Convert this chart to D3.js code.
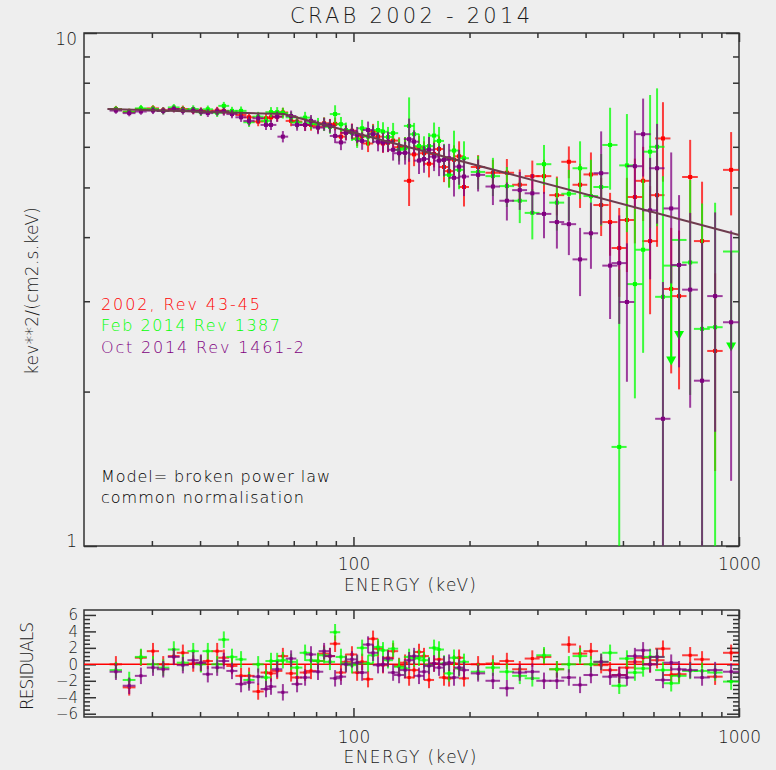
<!DOCTYPE html>
<html>
<head>
<meta charset="utf-8">
<script src="https://cdn.jsdelivr.net/npm/d3@7"></script>
<style>
  body { margin: 0; background: #eeeeee; }
  svg { display: block; font-family: 'DejaVu Sans', sans-serif; font-weight: 200; }
</style>
</head>
<body>
<div class="container"></div>
<script>
// energy bins (keV) and their half widths
const energy = [
  24.2, 26.2, 28.1, 30.2, 32.1, 34.2, 36.1, 38.4, 40.2, 41.9,
  44.3, 46.1, 48.4, 51.1, 53.6, 56.6, 59.3, 61.1, 63.4, 65.6,
  68.9, 71.4, 74.9, 77.6, 80.9, 83.9, 86.9, 89.6, 92.8, 95.6,
  99.1, 102.2, 105.3, 109.1, 112.4, 115.8, 119.3, 122.9, 126.7, 131.3,
  136.1, 139.4, 143.6, 147.9, 152.4, 157.0, 161.8, 166.7, 171.7, 177.0,
  182.3, 187.9, 193.5, 210.5, 230, 250, 270, 291, 312, 337,
  362, 387, 413, 439, 463, 489, 512, 537, 564, 588,
  613, 635, 667, 699, 747, 802, 867, 954
];
const halfWidth = [
  0.9, 1.0, 1.0, 1.1, 1.2, 1.2, 1.3, 1.3, 1.3, 1.3,
  1.5, 1.5, 1.6, 1.7, 1.8, 1.9, 1.9, 2.0, 2.0, 2.1,
  2.2, 2.3, 2.4, 2.5, 2.6, 2.7, 2.7, 2.8, 2.9, 3.0,
  3.1, 3.2, 3.3, 3.4, 3.5, 3.6, 3.7, 3.8, 3.9, 4.0,
  4.2, 4.3, 4.4, 4.5, 4.6, 4.8, 4.9, 5.0, 5.2, 5.4,
  5.5, 5.7, 5.9, 9, 10, 11, 12, 13, 14, 15,
  16, 17, 18, 20, 21, 22, 23, 25, 26, 27,
  28, 29, 30, 32, 35, 38, 40, 45
];

// 2002, Rev 43-45
const redValues = [
  7.11, 7.02, 7.11, 7.13, 7.07, 7.11, 7.11, 7.06, 7.05, 7.05,
  7.06, 7.05, 6.99, 6.92, 6.85, 6.72, 6.82, 6.85, 6.87, 7.00,
  6.74, 6.72, 6.62, 6.62, 6.57, 6.67, 6.62, 6.65, 6.28, 6.39,
  6.45, 6.23, 6.30, 6.09, 6.42, 6.28, 6.09, 6.11, 6.17, 5.99,
  5.99, 5.15, 5.80, 5.99, 5.83, 5.56, 5.81, 5.94, 5.48, 5.38,
  5.66, 5.75, 5.01, 5.48, 5.34, 5.34, 5.06, 5.26, 5.26, 4.83,
  5.61, 5.06, 5.30, 4.62, 4.28, 3.81, 4.32, 4.79, 5.15, 3.93,
  4.83, 6.23, 3.17, 3.07, 5.24, 3.93, 2.40, 5.41
];
const redSigma = [
  0.10, 0.10, 0.10, 0.10, 0.10, 0.10, 0.11, 0.11, 0.11, 0.11,
  0.12, 0.12, 0.12, 0.13, 0.13, 0.14, 0.14, 0.14, 0.15, 0.15,
  0.16, 0.16, 0.17, 0.17, 0.18, 0.18, 0.18, 0.19, 0.20, 0.20,
  0.21, 0.21, 0.22, 0.23, 0.23, 0.24, 0.25, 0.25, 0.26, 0.27,
  0.28, 0.55, 0.30, 0.31, 0.32, 0.33, 0.34, 0.35, 0.36, 0.37,
  0.38, 0.40, 0.42, 0.30, 0.32, 0.34, 0.36, 0.38, 0.40, 0.42,
  0.40, 0.50, 0.55, 0.60, 0.60, 0.75, 0.90, 0.90, 0.85, 1.10,
  1.00, 1.10, 1.00, 1.05, 0.95, 1.20, 1.00, 1.00
];
const redResidual = [
  0, -2.8, 0.8, 1.6, 0, 1.0, 1.4, 0.1, 0.1, 0.4,
  1.6, 0.8, -0.2, -1.4, -1.4, -3.3, -1.0, -1.1, -0.8, 1.0,
  -1.1, -1.6, -1.0, -0.8, 0.4, 1.3, 1.0, 2.5, -1.0, 0.3,
  1.2, -1.0, 0.3, -1.8, 3.1, 1.9, -0.1, 0.8, 1.6, -0.2,
  0.2, -1.6, -0.7, 1.5, 1.0, -1.9, 0.1, 0.6, -1.6, -1.7,
  0.1, 0.8, -1.7, 0, 0.1, 0.4, -0.6, 0.7, 0.9, -0.6,
  2.4, 1.3, 1.6, -0.1, -0.7, -1.3, -0.4, 0.3, 0.8, 0,
  0.5, 1.9, -1.3, -1.2, 1.1, 0.6, -1.5, 1.4
];

// Feb 2014 Rev 1387 (null sigma = upper limit)
const greenValues = [
  7.10, 7.02, 7.13, 7.11, 7.05, 7.16, 7.08, 7.11, 7.01, 7.10,
  6.99, 7.21, 7.05, 7.05, 6.70, 6.87, 6.74, 7.01, 7.01, 6.98,
  6.85, 6.69, 6.84, 6.68, 6.64, 6.64, 6.56, 6.95, 6.64, 6.47,
  6.39, 6.21, 6.52, 6.28, 6.36, 6.47, 6.42, 6.27, 6.38, 5.92,
  5.96, 6.59, 6.35, 6.02, 5.94, 6.02, 6.31, 6.16, 5.66, 5.29,
  5.90, 5.41, 5.70, 5.36, 5.26, 5.03, 4.71, 4.46, 5.55, 4.67,
  4.86, 5.45, 4.81, 5.01, 6.05, 1.56, 5.52, 3.24, 3.78, 5.87,
  6.00, 3.06, 3.52, 3.95, 3.57, 2.65, 2.67, 3.75
];
const greenSigma = [
  0.10, 0.10, 0.11, 0.11, 0.11, 0.11, 0.12, 0.12, 0.12, 0.12,
  0.13, 0.13, 0.13, 0.14, 0.14, 0.15, 0.15, 0.16, 0.16, 0.17,
  0.17, 0.18, 0.18, 0.19, 0.19, 0.20, 0.20, 0.28, 0.22, 0.22,
  0.23, 0.24, 0.25, 0.25, 0.26, 0.27, 0.28, 0.29, 0.30, 0.30,
  0.31, 0.90, 0.33, 0.34, 0.35, 0.36, 0.38, 0.40, 0.42, 0.30,
  0.55, 0.45, 0.45, 0.40, 0.45, 0.45, 0.45, 0.50, 0.50, 0.55,
  0.55, 0.70, 0.85, 0.80, 1.10, 1.90, 1.43, 1.30, 1.40, 1.70,
  1.80, 2.20, null, null, 1.60, 2.00, 2.00, null
];
const greenResidual = [
  -0.7, -1.9, 0.9, 0, -0.4, 1.8, 0.2, 1.6, 0, 1.6,
  0, 3.0, 0.9, 0.6, -1.9, 0, -1.6, 0.4, 0.4, 0.5,
  0.3, -0.4, 1.4, 0.5, 0.4, 1.1, 0.3, 3.9, 0.9, 0.1,
  -0.1, 0.1, 2.0, 0.1, 1.1, 2.1, 1.7, 0.5, 1.9, -0.3,
  -0.5, 0.9, 0.7, 0.8, 0.5, -0.1, 2.0, 1.8, 0.1, -1.1,
  0.8, -0.5, 0.3, -0.9, -0.4, -0.9, -1.4, -1.7, 1.1, -0.6,
  0, 1.0, 0, 0.3, 1.4, -2.6, 0.7, -1.0, -0.5, 0.9,
  0.9, -0.7, -2.3, -1.4, -0.8, -0.8, -1.0, -2.1
];

// Oct 2014 Rev 1461-2
const purpleValues = [
  7.06, 6.98, 7.03, 7.06, 7.05, 7.11, 7.05, 7.06, 7.03, 6.98,
  7.03, 7.03, 6.95, 6.85, 6.74, 6.82, 6.62, 6.62, 6.87, 6.28,
  6.89, 6.62, 6.62, 6.74, 6.54, 6.64, 6.59, 6.30, 6.12, 6.39,
  6.43, 6.33, 6.16, 6.47, 6.35, 6.14, 6.12, 6.14, 5.92, 5.83,
  5.84, 6.21, 6.14, 5.64, 5.68, 5.92, 5.74, 5.64, 5.66, 5.70,
  5.22, 5.49, 5.25, 5.29, 5.02, 4.71, 4.94, 4.87, 4.44, 4.28,
  4.24, 3.62, 4.07, 5.33, 3.52, 3.56, 2.99, 5.50, 6.35, 4.51,
  5.45, 1.77, 4.55, 3.53, 3.16, 2.10, 3.07, 2.73
];
const purpleSigma = [
  0.10, 0.10, 0.10, 0.11, 0.11, 0.11, 0.12, 0.12, 0.12, 0.12,
  0.13, 0.13, 0.13, 0.14, 0.14, 0.15, 0.15, 0.15, 0.16, 0.16,
  0.17, 0.17, 0.18, 0.18, 0.19, 0.19, 0.20, 0.20, 0.21, 0.22,
  0.22, 0.23, 0.24, 0.25, 0.25, 0.26, 0.27, 0.28, 0.28, 0.29,
  0.30, 0.60, 0.32, 0.33, 0.34, 0.35, 0.36, 0.38, 0.40, 0.38,
  0.42, 0.43, 0.44, 0.38, 0.40, 0.40, 0.42, 0.44, 0.46, 0.48,
  0.55, 0.55, 0.60, 1.10, 0.75, 0.85, 0.90, 0.95, 1.10, 1.20,
  1.20, 1.50, 1.30, 1.30, 1.30, 1.80, 1.40, 1.39
];
const purpleResidual = [
  -0.9, -2.6, -1.4, -0.4, -0.6, 0.9, -0.1, 0.5, 0.2, -1.2,
  -0.4, 0.4, -0.8, -2.4, -2.2, -1.5, -3.0, -2.7, -0.6, -3.4,
  0.7, -2.4, -1.6, 1.2, -0.9, 1.6, 1.0, -1.7, -1.5, 0,
  0.6, 0.2, -1.0, 2.4, 1.4, -0.1, 0, 0.7, -1.0, -1.3,
  -0.7, 0.5, 1.0, -1.4, -0.9, -0.2, 0.1, -0.4, 0, 0.2,
  -1.6, -0.4, -0.7, -1.1, -2.0, -2.9, -1.0, -0.9, -2.0, -2.0,
  -1.6, -2.5, -1.3, 0.3, -1.5, -1.3, -1.6, 1.0, 1.7, 0,
  0.9, -1.9, 0.2, -0.6, -0.7, -1.6, -0.7, -0.9
];

// broken power law model (keV, keV**2/(cm2.s.keV))
const modelEnergy = [23, 66, 1000];
const modelValue = [7.11, 6.95, 4.04];

const xMajor = [100, 1000];
const xMinor = [30, 40, 50, 60, 70, 80, 90, 200, 300, 400, 500, 600, 700, 800, 900];
const yMajor = [1, 10];
const yMinor = [2, 3, 4, 5, 6, 7, 8, 9];
const residualTicks = [-6, -4, -2, 0, 2, 4, 6];

const legend = [
  { label: '2002, Rev 43-45', color: '#ff0000', length: 159 },
  { label: 'Feb 2014 Rev 1387', color: '#00ff00', length: 179 },
  { label: 'Oct 2014 Rev 1461-2', color: '#800080', length: 203 }
];

const width = 776;
const height = 770;
const main = { left: 84, right: 739, top: 33, bottom: 546 };
const resid = { left: 84, right: 739, top: 610, bottom: 717 };
const ink = '#333333';
const textInk = '#1a1a1a';

const svg = d3
  .select('.container')
  .append('svg')
  .attr('width', width)
  .attr('height', height);

svg
  .append('rect')
  .attr('width', width)
  .attr('height', height)
  .attr('fill', '#eeeeee');

const defs = svg.append('defs');
defs
  .append('clipPath')
  .attr('id', 'main-clip')
  .append('rect')
  .attr('x', main.left)
  .attr('y', main.top)
  .attr('width', main.right - main.left)
  .attr('height', main.bottom - main.top);
defs
  .append('clipPath')
  .attr('id', 'resid-clip')
  .append('rect')
  .attr('x', resid.left)
  .attr('y', resid.top)
  .attr('width', resid.right - resid.left)
  .attr('height', resid.bottom - resid.top);

const x = d3.scaleLog().domain([20, 1000]).range([main.left, main.right]);
const y = d3.scaleLog().domain([1, 10]).range([main.bottom, main.top]);
const yRes = d3.scaleLinear().domain([-6.4, 6.6]).range([resid.bottom, resid.top]);

const styleAxis = g => {
  g.select('.domain').remove();
  g.selectAll('line').attr('stroke', ink).attr('stroke-width', 1.5);
  g.attr('font-family', null).attr('font-size', null);
  g.selectAll('text').attr('fill', textInk);
};

const addAxis = (axis, tx, ty) =>
  svg
    .append('g')
    .attr('transform', `translate(${tx}, ${ty})`)
    .call(axis)
    .call(styleAxis);

// main panel axes
addAxis(d3.axisBottom(x).tickValues(xMinor).tickSize(-5).tickFormat(''), 0, main.bottom);
addAxis(d3.axisTop(x).tickValues(xMinor).tickSize(-5).tickFormat(''), 0, main.top);
addAxis(d3.axisTop(x).tickValues(xMajor).tickSize(-9).tickFormat(''), 0, main.top);
addAxis(d3.axisBottom(x).tickValues(xMajor).tickSize(-9).tickPadding(12).tickFormat(d3.format('d')), 0, main.bottom)
  .selectAll('text')
  .attr('font-size', 17);

addAxis(d3.axisLeft(y).tickValues(yMinor).tickSize(-6).tickFormat(''), main.left, 0);
addAxis(d3.axisLeft(y).tickValues(yMajor).tickSize(-13).tickFormat(''), main.left, 0);
addAxis(d3.axisRight(y).tickValues(yMinor).tickSize(-6).tickFormat(''), main.right, 0);
addAxis(d3.axisRight(y).tickValues(yMajor).tickSize(-13).tickFormat(''), main.right, 0);

svg
  .selectAll('.y-label')
  .data(yMajor)
  .join('text')
  .attr('class', 'y-label')
  .attr('x', 77)
  .attr('y', d => y(d) + (d === 10 ? 12 : 1))
  .attr('text-anchor', 'end')
  .attr('font-size', 17)
  .attr('fill', textInk)
  .text(d => d);

// residual panel axes
addAxis(d3.axisBottom(x).tickValues(xMinor).tickSize(-5).tickFormat(''), 0, resid.bottom);
addAxis(d3.axisTop(x).tickValues(xMinor).tickSize(-5).tickFormat(''), 0, resid.top);
addAxis(d3.axisTop(x).tickValues(xMajor).tickSize(-9).tickFormat(''), 0, resid.top);
addAxis(d3.axisBottom(x).tickValues(xMajor).tickSize(-9).tickPadding(14).tickFormat(d3.format('d')), 0, resid.bottom)
  .selectAll('text')
  .attr('font-size', 17);

const residualMinor = d3.range(-6, 6.5, 0.5).filter(d => d % 2 !== 0);
addAxis(d3.axisLeft(yRes).tickValues(residualMinor).tickSize(-6).tickFormat(''), resid.left, 0);
addAxis(d3.axisLeft(yRes).tickValues(residualTicks).tickSize(-12).tickPadding(6), resid.left, 0)
  .selectAll('text')
  .attr('font-size', 15);
addAxis(d3.axisRight(yRes).tickValues(residualMinor).tickSize(-6).tickFormat(''), resid.right, 0);
addAxis(d3.axisRight(yRes).tickValues(residualTicks).tickSize(-12).tickFormat(''), resid.right, 0);

// frames
[main, resid].forEach(p => {
  svg
    .append('rect')
    .attr('x', p.left)
    .attr('y', p.top)
    .attr('width', p.right - p.left)
    .attr('height', p.bottom - p.top)
    .attr('fill', 'none')
    .attr('stroke', ink)
    .attr('stroke-width', 1.5);
});

const bins = (values, sigma) =>
  energy.map((e, i) => ({ e, dE: halfWidth[i], v: values[i], s: sigma ? sigma[i] : 1 }));

const drawSpectrum = (values, sigma, color) => {
  const data = bins(values, sigma);
  const g = svg
    .append('g')
    .attr('clip-path', 'url(#main-clip)')
    .attr('stroke', color)
    .attr('fill', color);

  g.selectAll('.h-bar')
    .data(data)
    .join('line')
    .attr('class', 'h-bar')
    .attr('x1', d => x(d.e - d.dE))
    .attr('x2', d => x(d.e + d.dE))
    .attr('y1', d => y(d.v))
    .attr('y2', d => y(d.v))
    .attr('stroke-width', 2)
    .attr('stroke-opacity', 0.75);

  g.selectAll('.v-bar')
    .data(data.filter(d => d.s !== null))
    .join('line')
    .attr('class', 'v-bar')
    .attr('x1', d => x(d.e))
    .attr('x2', d => x(d.e))
    .attr('y1', d => y(d.v + d.s))
    .attr('y2', d => y(Math.max(d.v - d.s, 0.5)))
    .attr('stroke-width', 2)
    .attr('stroke-opacity', 0.75);

  g.selectAll('.marker')
    .data(data.filter(d => d.s !== null))
    .join('rect')
    .attr('class', 'marker')
    .attr('x', d => x(d.e) - 2)
    .attr('y', d => y(d.v) - 2)
    .attr('width', 4)
    .attr('height', 4)
    .attr('stroke', 'none');

  // upper limits
  const limits = data.filter(d => d.s === null);
  g.selectAll('.limit')
    .data(limits)
    .join('line')
    .attr('class', 'limit')
    .attr('x1', d => x(d.e))
    .attr('x2', d => x(d.e))
    .attr('y1', d => y(d.v))
    .attr('y2', d => y(d.v) + 92)
    .attr('stroke-width', 2);
  g.selectAll('.arrow')
    .data(limits)
    .join('path')
    .attr('class', 'arrow')
    .attr('d', d => {
      const cx = x(d.e);
      const tip = y(d.v) + 100;
      return `M${cx - 5},${tip - 9}L${cx + 5},${tip - 9}L${cx},${tip}Z`;
    })
    .attr('stroke', 'none');
};

const drawResiduals = (residuals, color) => {
  const data = bins(residuals, null);
  const g = svg
    .append('g')
    .attr('clip-path', 'url(#resid-clip)')
    .attr('stroke', color)
    .attr('fill', color);

  g.selectAll('.h-bar')
    .data(data)
    .join('line')
    .attr('class', 'h-bar')
    .attr('x1', d => x(d.e - d.dE))
    .attr('x2', d => x(d.e + d.dE))
    .attr('y1', d => yRes(d.v))
    .attr('y2', d => yRes(d.v))
    .attr('stroke-width', 2)
    .attr('stroke-opacity', 0.75);

  g.selectAll('.v-bar')
    .data(data)
    .join('line')
    .attr('class', 'v-bar')
    .attr('x1', d => x(d.e))
    .attr('x2', d => x(d.e))
    .attr('y1', d => yRes(d.v + 1))
    .attr('y2', d => yRes(d.v - 1))
    .attr('stroke-width', 2)
    .attr('stroke-opacity', 0.75);

  g.selectAll('.marker')
    .data(data)
    .join('rect')
    .attr('class', 'marker')
    .attr('x', d => x(d.e) - 1.5)
    .attr('y', d => yRes(d.v) - 1.5)
    .attr('width', 3)
    .attr('height', 3)
    .attr('stroke', 'none');
};

drawSpectrum(redValues, redSigma, '#ff0000');
drawSpectrum(greenValues, greenSigma, '#00ff00');
drawSpectrum(purpleValues, purpleSigma, '#800080');

// model line
const modelLine = d3
  .line()
  .x(d => x(d[0]))
  .y(d => y(d[1]));

svg
  .append('path')
  .datum(modelEnergy.map((e, i) => [e, modelValue[i]]))
  .attr('d', modelLine)
  .attr('fill', 'none')
  .attr('stroke', '#6e3b4e')
  .attr('stroke-width', 2);

// residuals
svg
  .append('line')
  .attr('x1', resid.left)
  .attr('x2', resid.right)
  .attr('y1', yRes(0))
  .attr('y2', yRes(0))
  .attr('stroke', '#ff0000')
  .attr('stroke-width', 1.5);

drawResiduals(redResidual, '#ff0000');
drawResiduals(greenResidual, '#00ff00');
drawResiduals(purpleResidual, '#800080');

// texts
const label = (txt, tx, ty, size, len, opts = {}) =>
  svg
    .append('text')
    .attr('x', tx)
    .attr('y', ty)
    .attr('font-size', size)
    .attr('fill', opts.color || textInk)
    .attr('text-anchor', opts.anchor || 'start')
    .attr('textLength', len)
    .attr('transform', opts.rotate ? `rotate(-90, ${tx}, ${ty})` : null)
    .text(txt);

label('CRAB 2002 - 2014', 410, 23, 21, 240, { anchor: 'middle' });
label('ENERGY (keV)', 410, 591, 17, 132, { anchor: 'middle' });
label('ENERGY (keV)', 410, 763, 17, 133, { anchor: 'middle' });
label('kev**2/(cm2.s.keV)', 38, 291, 17, 168, { anchor: 'middle', rotate: true });
label('RESIDUALS', 33, 666, 17, 88, { anchor: 'middle', rotate: true });

legend.forEach((d, i) => {
  label(d.label, 101, 310 + i * 21.3, 16, d.length, { color: d.color });
});

label('Model= broken power law', 101, 482, 16, 229, { color: '#000' });
label('common normalisation', 101, 503, 16, 203, { color: '#000' });
</script>
</body>
</html>
